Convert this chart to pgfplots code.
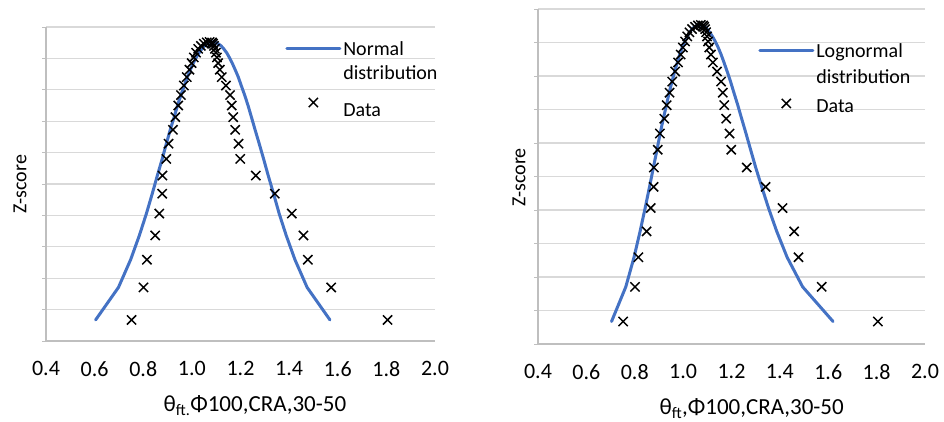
\documentclass[border=0pt]{standalone}
\usepackage{fontspec}
\setmainfont{Carlito}
\usepackage{pgfplots}
\usepackage{pgfplotstable}
\pgfplotsset{compat=1.18}
\definecolor{nblue}{HTML}{4472C4}
\definecolor{gridc}{HTML}{D9D9D9}
\definecolor{axc}{HTML}{BFBFBF}

\pgfplotstableread{
x y
0.752 0.671
0.801 1.707
0.815 2.589
0.849 3.362
0.866 4.059
0.878 4.691
0.879 5.269
0.895 5.799
0.904 6.283
0.922 6.726
0.932 7.129
0.944 7.501
0.955 7.834
0.967 8.136
0.979 8.404
0.990 8.641
0.999 8.850
1.008 9.031
1.017 9.182
1.026 9.305
1.037 9.400
1.049 9.469
1.061 9.510
1.073 9.523
1.083 9.510
1.087 9.469
1.091 9.400
1.095 9.305
1.099 9.182
1.103 9.031
1.108 8.850
1.115 8.641
1.123 8.404
1.140 8.136
1.157 7.834
1.164 7.501
1.170 7.129
1.178 6.726
1.192 6.283
1.199 5.799
1.263 5.269
1.341 4.691
1.411 4.059
1.459 3.362
1.477 2.589
1.573 1.707
1.805 0.671
}\datatab

\pgfplotstableread{
x y
0.604 0.671
0.698 1.707
0.748 2.589
0.784 3.362
0.813 4.059
0.837 4.691
0.858 5.269
0.878 5.799
0.895 6.283
0.911 6.726
0.927 7.129
0.941 7.501
0.955 7.834
0.969 8.136
0.981 8.404
0.994 8.641
1.006 8.850
1.018 9.031
1.030 9.182
1.041 9.305
1.052 9.400
1.064 9.469
1.075 9.510
1.086 9.523
1.097 9.510
1.108 9.469
1.120 9.400
1.131 9.305
1.143 9.182
1.154 9.031
1.166 8.850
1.178 8.641
1.191 8.404
1.203 8.136
1.217 7.834
1.231 7.501
1.245 7.129
1.260 6.726
1.277 6.283
1.295 5.799
1.314 5.269
1.336 4.691
1.359 4.059
1.388 3.362
1.424 2.589
1.474 1.707
1.568 0.671
}\normtab

\pgfplotstableread{
x y
0.704 0.671
0.763 1.707
0.797 2.589
0.822 3.362
0.843 4.059
0.861 4.691
0.877 5.269
0.892 5.799
0.905 6.283
0.918 6.726
0.931 7.129
0.942 7.501
0.954 7.834
0.965 8.136
0.976 8.404
0.986 8.641
0.996 8.850
1.007 9.031
1.017 9.182
1.027 9.305
1.037 9.400
1.047 9.469
1.058 9.510
1.068 9.523
1.078 9.510
1.089 9.469
1.099 9.400
1.110 9.305
1.121 9.182
1.133 9.031
1.145 8.850
1.157 8.641
1.169 8.404
1.182 8.136
1.196 7.834
1.210 7.501
1.226 7.129
1.242 6.726
1.260 6.283
1.279 5.799
1.300 5.269
1.325 4.691
1.353 4.059
1.387 3.362
1.430 2.589
1.494 1.707
1.620 0.671
}\lognormtab

\newcommand{\ls}{\rule[-3pt]{0pt}{19pt}}

\pgfplotsset{
  panel/.style={
    scale only axis,
    anchor=south west,
    clip=false,
    xmin=0.4, xmax=2.0, ymin=0, ymax=10,
    xtick={0.4,0.6,0.8,1.0,1.2,1.4,1.6,1.8,2.0},
    ytick={0,1,2,3,4,5,6,7,8,9,10},
    yticklabels={},
    axis lines*=left,
    axis line style={axc, line width=1.5pt},
    ymajorgrids,
    grid style={gridc, line width=1.2pt},
    tick align=outside,
    xtick style={draw=none},
    ytick style={axc, line width=0.8pt},
    major tick length=4pt,
    xticklabel style={font=\fontsize{22}{26}\selectfont, yshift=-13pt,
      /pgf/number format/.cd, fixed, fixed zerofill, precision=1, assume math mode=true},
    legend cell align=left,
    legend style={draw=none, fill=none, anchor=north west, inner sep=3pt,
      nodes={inner sep=2pt},
      font=\fontsize{20}{25}\selectfont,
      /tikz/every even column/.append style={column sep=1pt}},
  },
  curve/.style={nblue, line width=3pt, line join=round, line cap=round,
    legend image code/.code={\draw[##1] plot coordinates {(0pt,0pt) (53pt,0pt)};}},
  datapts/.style={only marks, mark=x, mark size=6.5pt, black, mark options={line width=1.5pt},
    legend image code/.code={\draw[##1, overlay] plot coordinates {(26.5pt,0pt)};
      \path[draw=none, fill=none] (0pt,0pt) -- (53pt,0pt);}},
}

\begin{document}
\begin{tikzpicture}
\path[use as bounding box] (0pt,0pt) rectangle (944pt,421pt);

\begin{axis}[panel, at={(46pt,80pt)}, width=389pt, height=314pt,
  legend style={at={(rel axis cs:0.607,0.976)}, row sep=2pt}]
  \addplot[curve] table[x=x, y=y] {\normtab};
  \addlegendentry{\ls Normal}
  \addlegendimage{empty legend}
  \addlegendentry{\ls distribution}
  \addplot[datapts] table[x=x, y=y] {\datatab};
  \addlegendentry{\rule[-17pt]{0pt}{47pt}Data}
  \node[rotate=90, font=\fontsize{20}{24}\selectfont] at (rel axis cs:-0.067,0.5) {Z-score};
  \node[font=\fontsize{23}{26}\selectfont] at (rel axis cs:0.537,-0.206) {θ\textsubscript{ft.}Φ100,CRA,30-50};
\end{axis}

\begin{axis}[panel, at={(538pt,77pt)}, width=387pt, height=335pt,
  legend style={at={(rel axis cs:0.561,0.918)}, row sep=4pt}]
  \addplot[curve] table[x=x, y=y] {\lognormtab};
  \addlegendentry{\ls Lognormal}
  \addlegendimage{empty legend}
  \addlegendentry{\ls distribution}
  \addplot[datapts] table[x=x, y=y] {\datatab};
  \addlegendentry{\rule[-7pt]{0pt}{27pt}Data}
  \node[rotate=90, font=\fontsize{20}{24}\selectfont] at (rel axis cs:-0.049,0.497) {Z-score};
  \node[font=\fontsize{23}{26}\selectfont] at (rel axis cs:0.552,-0.193) {θ\textsubscript{ft},Φ100,CRA,30-50};
\end{axis}
\end{tikzpicture}
\end{document}
